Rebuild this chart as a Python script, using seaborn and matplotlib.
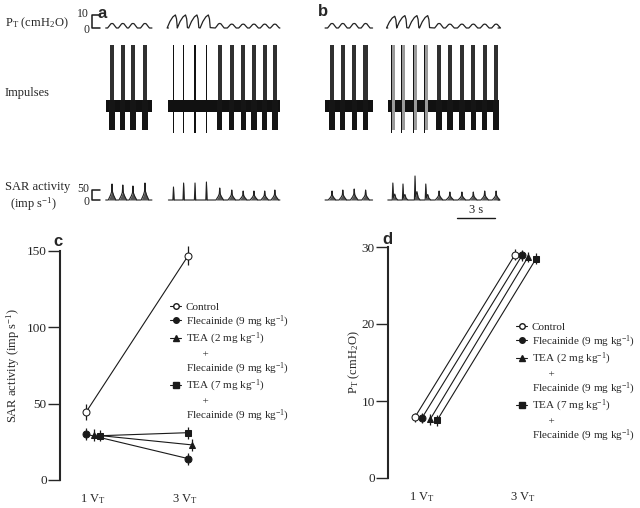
import numpy as np
import pandas as pd
import matplotlib.pyplot as plt
import seaborn as sns
from matplotlib.lines import Line2D

# ----------------------------------------------------------------------
# Data
# ----------------------------------------------------------------------
# panels a / b : breath times (s) within each recording segment
a_segments = [(0.45, 4.1), (5.4, 14.2)]
a_left_t = [0.95, 1.8, 2.6, 3.55]
a_right_t = [5.8, 6.6, 7.5, 8.4, 9.45, 10.4, 11.3, 12.15, 13.0, 13.8]
a_right_kind = ["spike", "spike", "spike", "spike", "burst", "burst", "burst", "burst", "burst", "burst"]
a_pt_left = [3.5, 3.5, 3.5, 3.5]
a_pt_right = [10, 10, 10, 10, 3.5, 3, 3, 3, 3, 3]
a_sar_left = [80, 75, 70, 85]
a_sar_right = [65, 85, 85, 90, 60, 50, 45, 45, 45, 50]

b_segments = [(0.4, 4.15), (5.35, 14.05)]
b_left_t = [0.95, 1.8, 2.7, 3.6]
b_right_t = [5.75, 6.55, 7.5, 8.35, 9.4, 10.25, 11.2, 12.1, 13.0, 13.9]
b_right_kind = ["mixed", "mixed", "mixed", "mixed", "burst", "burst", "burst", "burst", "burst", "burst"]
b_pt_left = [3.5, 3.5, 3.5, 3.5]
b_pt_right = [9, 9.5, 9.5, 9.5, 3.5, 3, 3, 3, 3, 3]
b_sar_left = [45, 50, 55, 50]
b_sar_right = [85, 80, 120, 80, 45, 40, 40, 40, 45, 45]

scale_bar_s = 3

# panels c / d : mean +/- s.e.m. at 1 VT and 3 VT
levels = [1, 3]
level_labels = [r"1 V$_\mathrm{T}$", r"3 V$_\mathrm{T}$"]
series = ["Control", "Flecainide", "TEA2", "TEA7"]

c_control = [44.5, 147]
c_control_err = [5, 6]
c_flec = [30, 14]
c_flec_err = [4, 4]
c_tea2 = [29.5, 23]
c_tea2_err = [4, 4]
c_tea7 = [29, 31]
c_tea7_err = [3.5, 4]

d_control = [7.9, 29.0]
d_control_err = [0.6, 0.7]
d_flec = [7.8, 28.9]
d_flec_err = [0.7, 0.7]
d_tea2 = [7.6, 28.7]
d_tea2_err = [0.7, 0.7]
d_tea7 = [7.5, 28.5]
d_tea7_err = [0.7, 0.7]

legend_labels = ["Control", "Flecainide (9 mg kg$^{-1}$)", "TEA (2 mg kg$^{-1}$)", "      +",
                 "Flecainide (9 mg kg$^{-1}$)", "TEA (7 mg kg$^{-1}$)", "      +",
                 "Flecainide (9 mg kg$^{-1}$)"]

# ----------------------------------------------------------------------
# Style
# ----------------------------------------------------------------------
sns.set_theme(style="ticks")
plt.rcParams["font.family"] = ["Liberation Serif", "DejaVu Serif"]
plt.rcParams["mathtext.fontset"] = "custom"
plt.rcParams["mathtext.rm"] = "Liberation Serif"
plt.rcParams["mathtext.it"] = "Liberation Serif:italic"
plt.rcParams["axes.linewidth"] = 1.5

W, H = 640, 508
fig = plt.figure(figsize=(6.4, 5.08), dpi=100)


def px_axes(l, t, r, b):
    return fig.add_axes([l / W, 1 - b / H, (r - l) / W, (b - t) / H])


def ftext(x, y, s, **kw):
    fig.text(x / W, 1 - y / H, s, **kw)


letter_font = dict(family=["Liberation Sans", "DejaVu Sans"], fontweight="bold", fontsize=12)

# breath / SAR waveform shapes (relative time, relative height)
SHAPES = {
    "hump": ([-0.35, -0.22, -0.1, 0.0, 0.1, 0.22, 0.35], [0, 0.45, 0.9, 1.0, 0.9, 0.45, 0]),
    "saw": ([-0.5, -0.28, -0.05, 0.15, 0.24, 0.3], [0, 0.5, 0.85, 1.0, 0.7, 0.03]),
    "tri": ([-0.3, -0.12, -0.04, 0.0, 0.04, 0.12, 0.3], [0, 0.3, 0.5, 1.0, 0.5, 0.3, 0]),
    "spike": ([-0.05, 0.0, 0.05], [0, 1, 0]),
    "spike2": ([-0.05, 0.0, 0.05, 0.15, 0.25, 0.4], [0, 1, 0.15, 0.35, 0.1, 0]),
}


def wave(seg, times, amps, shapes):
    xs, ys = [seg[0]], [0]
    for t, a, s in zip(times, amps, shapes):
        dt, h = SHAPES[s]
        xs += [t + d for d in dt]
        ys += [a * v for v in h]
    xs.append(seg[1])
    ys.append(0)
    return xs, ys


def trace_panel(x0, segments, left_t, right_t, right_kind, pt_left, pt_right, sar_left, sar_right, sar_bottom):
    x1 = x0 + 15 * 12.67
    # pressure
    ax_p = px_axes(x0, 10, x1, 31)
    ax_p.set_xlim(0, 15)
    ax_p.set_ylim(-2.3, 13.8)
    ax_p.set_axis_off()
    big = ["saw" if k != "burst" else "hump" for k in right_kind]
    for seg, tt, aa, ss in [(segments[0], left_t, pt_left, ["hump"] * len(left_t)),
                            (segments[1], right_t, pt_right, big)]:
        xs, ys = wave(seg, tt, aa, ss)
        ax_p.plot(xs, ys, color="#222", lw=0.9)

    # impulses
    ax_i = px_axes(x0, 40, x1, 135)
    ax_i.set_xlim(0, 15)
    ax_i.set_ylim(-29, 66)
    ax_i.set_axis_off()
    for seg in segments:
        ax_i.fill_between(seg, -6, 6, color="#111", lw=0)
    kinds = ["burst"] * len(left_t) + list(right_kind)
    for t, k in zip(list(left_t) + list(right_t), kinds):
        if k == "burst":
            ax_i.bar(t, 30, bottom=-24, width=0.42, color="#151515", lw=0)
            ax_i.bar(t, 55, bottom=6, width=0.34, color="#303030", lw=0)
        elif k == "spike":
            ax_i.bar(t, 88, bottom=-27, width=0.12, color="#111", lw=0)
        else:
            ax_i.bar(t, 85, bottom=-24, width=0.36, color="#9a9a9a", lw=0)
            ax_i.bar(t - 0.1, 88, bottom=-27, width=0.1, color="#111", lw=0)

    # SAR activity
    ax_s = px_axes(x0, 175, x1, 200 + sar_bottom / 5)
    ax_s.set_xlim(0, 15)
    ax_s.set_ylim(-sar_bottom, 125)
    ax_s.set_axis_off()
    sar_shape = {"burst": "tri", "spike": "spike", "mixed": "spike2"}
    for seg, tt, aa, ss in [(segments[0], left_t, sar_left, ["tri"] * len(left_t)),
                            (segments[1], right_t, sar_right, [sar_shape[k] for k in right_kind])]:
        xs, ys = wave(seg, tt, aa, ss)
        ax_s.fill_between(xs, 0, ys, color="#555", lw=0)
        ax_s.plot(xs, ys, color="#222", lw=0.8)
    return ax_p, ax_s


ax_pa, ax_sa = trace_panel(100, a_segments, a_left_t, a_right_t, a_right_kind,
                           a_pt_left, a_pt_right, a_sar_left, a_sar_right, 15)
ax_pb, ax_sb = trace_panel(320, b_segments, b_left_t, b_right_t, b_right_kind,
                           b_pt_left, b_pt_right, b_sar_left, b_sar_right, 110)

# calibration brackets on panel a
ax_pa.plot([0.0, -0.65, -0.65, 0.0], [10, 10, 0, 0], color="k", lw=1.1, clip_on=False)
ax_pa.text(-0.85, 11, "10", ha="right", va="center", fontsize=8.5)
ax_pa.text(-0.85, -1.5, "0", ha="right", va="center", fontsize=8.5)
ax_sa.plot([0.0, -0.65, -0.65, 0.0], [50, 50, 0, 0], color="k", lw=1.1, clip_on=False)
ax_sa.text(-0.85, 55, "50", ha="right", va="center", fontsize=8.5)
ax_sa.text(-0.85, -8, "0", ha="right", va="center", fontsize=8.5)

# time scale bar on panel b
ax_sb.plot([13.8 - scale_bar_s, 13.8], [-90, -90], color="k", lw=1.0)
ax_sb.text(13.8 - scale_bar_s / 2, -80, "3 s", ha="center", va="bottom", fontsize=9)

ftext(5, 23, r"P$_\mathrm{T}$ (cmH$_2$O)", fontsize=9, va="center")
ftext(5, 93, "Impulses", fontsize=9, va="center")
ftext(5, 187, "SAR activity", fontsize=9, va="center")
ftext(10, 204, "(imp s$^{-1}$)", fontsize=9, va="center")
ftext(98, 13, "a", va="center", **letter_font)
ftext(318, 11, "b", va="center", **letter_font)

# ----------------------------------------------------------------------
# Panels c and d
# ----------------------------------------------------------------------
markers = {"Control": "o", "Flecainide": "o", "TEA2": "^", "TEA7": "s"}
c_offsets = {"Control": (-0.15, 0.07), "Flecainide": (-0.15, 0.07), "TEA2": (0.02, 0.15), "TEA7": (0.15, 0.07)}
d_offsets = {"Control": (-0.14, -0.16), "Flecainide": (0.0, -0.02), "TEA2": (0.16, 0.10), "TEA7": (0.30, 0.26)}


def build_df(values, errs, offsets):
    rows = []
    for s, v, e in zip(series, values, errs):
        for i, lv in enumerate(levels):
            rows.append(dict(series=s, x=lv + offsets[s][i], value=v[i], err=e[i]))
    return pd.DataFrame(rows)


df_c = build_df([c_control, c_flec, c_tea2, c_tea7],
                [c_control_err, c_flec_err, c_tea2_err, c_tea7_err], c_offsets)
df_d = build_df([d_control, d_flec, d_tea2, d_tea7],
                [d_control_err, d_flec_err, d_tea2_err, d_tea7_err], d_offsets)


def line_panel(ax, df, ylim, yticks, ylabel, xlim, leg_xy):
    ax.errorbar(df["x"], df["value"], yerr=df["err"], fmt="none", ecolor="k",
                elinewidth=0.9, capsize=0, zorder=1, clip_on=False)
    sns.lineplot(data=df, x="x", y="value", hue="series", style="series", hue_order=series,
                 style_order=series, markers=markers, dashes=False, palette=["k"] * 4,
                 lw=0.8, markersize=5, mec="k", legend=False, errorbar=None, ax=ax, zorder=3)
    for ln in ax.lines:
        ln.set_clip_on(False)
    ax.lines[0].set_markerfacecolor("white")
    ax.set_xlim(*xlim)
    ax.set_ylim(*ylim)
    ax.set_yticks(yticks)
    ax.set_xticks(levels, level_labels)
    ax.tick_params(axis="x", length=0, pad=9, labelsize=9)
    ax.tick_params(axis="y", length=8.5, width=1.0, pad=1, labelsize=9.5, direction="out")
    sns.despine(ax=ax, bottom=True)
    ax.spines["left"].set_bounds(*ylim)
    ax.set_xlabel("")
    ax.set_ylabel(ylabel, fontsize=9)
    ax.patch.set_alpha(0)

    blank = Line2D([], [], linestyle="none")
    handles = [
        Line2D([], [], color="k", lw=0.8, marker="o", mfc="white", mec="k", markersize=4),
        Line2D([], [], color="k", lw=0.8, marker="o", mfc="k", mec="k", markersize=4),
        Line2D([], [], color="k", lw=0.8, marker="^", mfc="k", mec="k", markersize=4),
        blank, blank,
        Line2D([], [], color="k", lw=0.8, marker="s", mfc="k", mec="k", markersize=4),
        blank, blank,
    ]
    ax.legend(handles, legend_labels, loc="upper left", bbox_to_anchor=(leg_xy[0] / W, 1 - leg_xy[1] / H),
              bbox_transform=fig.transFigure, frameon=False, fontsize=8, handlelength=1.0,
              handletextpad=0.4, labelspacing=0.15, borderpad=0, borderaxespad=0)


ax_c = px_axes(60, 251, 300, 480)
line_panel(ax_c, df_c, (0, 150), [0, 50, 100, 150], "SAR activity (imp s$^{-1}$)",
           (1 - 33 / 46, 1 + 207 / 46), (170, 302))
ax_c.yaxis.set_label_coords(-0.158, 0.5)

ax_d = px_axes(388, 247, 640, 478)
line_panel(ax_d, df_d, (0, 30), [0, 10, 20, 30], r"P$_\mathrm{T}$ (cmH$_2$O)",
           (1 - 34 / 50.5, 1 + 218 / 50.5), (516, 322))
ax_d.yaxis.set_label_coords(-0.105, 0.5)

ftext(53, 242, "c", va="center", **letter_font)
ftext(382, 240, "d", va="center", **letter_font)

fig.savefig("out.png", dpi=100)
